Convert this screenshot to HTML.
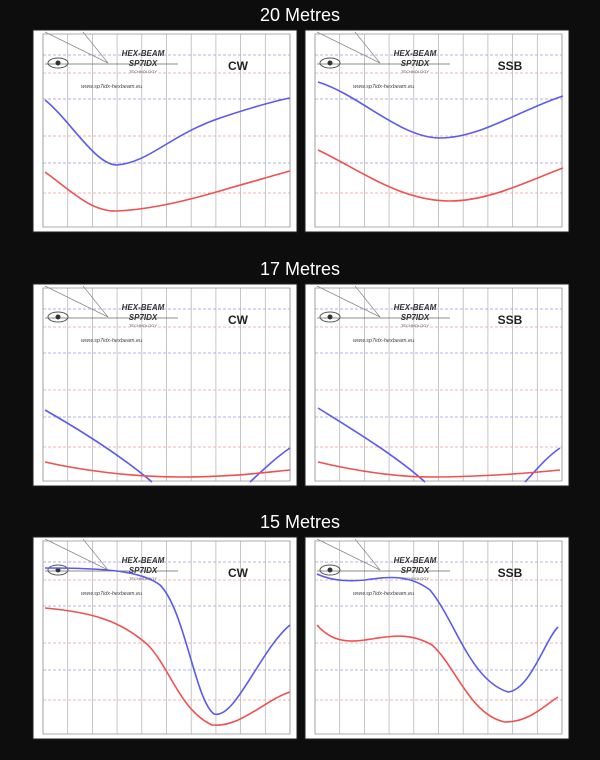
<!DOCTYPE html>
<html><head><meta charset="utf-8"><style>
html,body{margin:0;padding:0;background:#0c0c0c;width:600px;height:760px;overflow:hidden}
svg{display:block}
text{font-family:"Liberation Sans",sans-serif}
</style></head><body>
<svg id="s" width="600" height="760" viewBox="0 0 600 760" xmlns="http://www.w3.org/2000/svg">
<rect width="600" height="760" fill="#0d0d0d"/>
<text x="300" y="21" fill="#fff" font-size="18" text-anchor="middle">20 Metres</text>
<text x="300" y="275" fill="#fff" font-size="18" text-anchor="middle">17 Metres</text>
<text x="300" y="528" fill="#fff" font-size="18" text-anchor="middle">15 Metres</text>
<g id="panels"></g>
<g fill="none" stroke-width="1.6">
<path stroke="#5a5af0" d="M45,100 C70,120 95,165 117,165 C150,162 170,135 220,118 C250,108 270,102 290,98"/>
<path stroke="#f05050" d="M45,172 C70,190 90,211 115,211 C150,210 190,200 230,188 C255,181 275,175 290,171"/>
<path stroke="#5a5af0" d="M318,82 C360,95 400,138 440,138 C480,138 520,110 563,96"/>
<path stroke="#f05050" d="M318,150 C360,170 400,201 450,201 C490,201 530,180 563,168"/>
<path stroke="#5a5af0" d="M45,410 C80,430 120,455 152,482"/>
<path stroke="#5a5af0" d="M250,482 C265,468 278,456 290,448"/>
<path stroke="#f05050" d="M45,462 C80,470 130,477 180,477 C230,477 260,473 290,470"/>
<path stroke="#5a5af0" d="M318,408 C350,428 395,455 425,482"/>
<path stroke="#5a5af0" d="M525,482 C538,468 548,456 560,448"/>
<path stroke="#f05050" d="M318,462 C360,472 400,477 430,477 C480,477 520,474 560,470"/>
<path stroke="#5a5af0" d="M45,568 C100,568 140,570 160,585 C185,610 195,700 214,714 C235,720 260,650 290,625"/>
<path stroke="#f05050" d="M45,608 C90,612 120,620 148,645 C170,668 180,710 212,725 C240,728 265,700 290,692"/>
<path stroke="#5a5af0" d="M317,574 C330,580 345,582 365,580 C390,576 410,575 430,590 C455,620 470,680 508,692 C530,690 545,640 558,627"/>
<path stroke="#f05050" d="M317,625 C330,640 345,643 365,640 C390,636 410,632 432,645 C455,665 470,715 505,722 C530,722 545,705 558,697"/>
</g>
</svg>
<script>
var P=[[33,30,"CW"],[305,30,"SSB"],[33,284,"CW"],[305,284,"SSB"],[33,537,"CW"],[305,537,"SSB"]];
var g=document.getElementById('panels'),h='';
P.forEach(function(p){
var x=p[0],y=p[1],w=264,H=202;
h+='<rect x="'+x+'" y="'+y+'" width="'+w+'" height="'+H+'" fill="#fff" stroke="#222"/>';
var l=x+10,r=x+257,t=y+4,b=y+197;
for(var i=0;i<=10;i++){var xx=l+(r-l)*i/10;h+='<line x1="'+xx+'" y1="'+t+'" x2="'+xx+'" y2="'+b+'" stroke="#b8b8b8" stroke-width="0.8"/>';}
[25,69,133].forEach(function(v){h+='<line x1="'+l+'" y1="'+(y+v)+'" x2="'+r+'" y2="'+(y+v)+'" stroke="#9a9ae8" stroke-width="0.8" stroke-dasharray="3,2"/>';});
[43,106,163].forEach(function(v){h+='<line x1="'+l+'" y1="'+(y+v)+'" x2="'+r+'" y2="'+(y+v)+'" stroke="#eaa0a0" stroke-width="0.8" stroke-dasharray="3,2"/>';});
h+='<rect x="'+l+'" y="'+t+'" width="'+(r-l)+'" height="'+(b-t)+'" fill="none" stroke="#999" stroke-width="0.8"/>';
h+='<line x1="'+(x+12)+'" y1="'+(y+2)+'" x2="'+(x+75)+'" y2="'+(y+33)+'" stroke="#888" stroke-width="0.7"/>';
h+='<line x1="'+(x+50)+'" y1="'+(y+2)+'" x2="'+(x+75)+'" y2="'+(y+33)+'" stroke="#888" stroke-width="0.7"/>';
h+='<line x1="'+(x+12)+'" y1="'+(y+34)+'" x2="'+(x+145)+'" y2="'+(y+34)+'" stroke="#666" stroke-width="0.8"/>';
h+='<ellipse cx="'+(x+25)+'" cy="'+(y+33)+'" rx="10" ry="5" fill="none" stroke="#555"/><circle cx="'+(x+25)+'" cy="'+(y+33)+'" r="2.5" fill="#333"/>';
h+='<text x="'+(x+110)+'" y="'+(y+26)+'" font-size="8" font-weight="bold" font-style="italic" fill="#333" text-anchor="middle">HEX-BEAM</text>';
h+='<text x="'+(x+110)+'" y="'+(y+36)+'" font-size="8" font-weight="bold" font-style="italic" fill="#333" text-anchor="middle">SP7IDX</text>';
h+='<text x="'+(x+110)+'" y="'+(y+43)+'" font-size="4" fill="#555" text-anchor="middle">TECHNOLOGY</text>';
h+='<text x="'+(x+48)+'" y="'+(y+58)+'" font-size="5.5" font-style="italic" fill="#444">www.sp7idx-hexbeam.eu</text>';
h+='<text x="'+(x+205)+'" y="'+(y+40)+'" font-size="12" font-weight="bold" fill="#222" text-anchor="middle">'+p[2]+'</text>';
});
g.innerHTML=h;
</script>
</body></html>
